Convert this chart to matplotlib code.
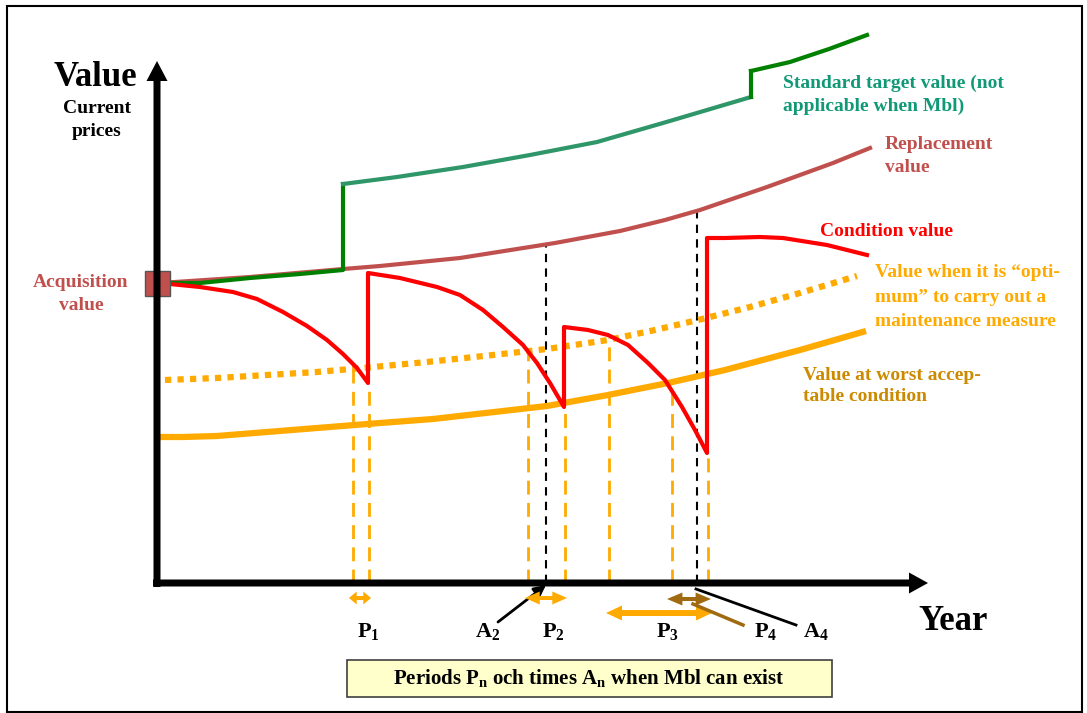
import matplotlib
matplotlib.use("Agg")
import matplotlib.pyplot as plt
from matplotlib.patches import Rectangle

# schematic values, origin at the corner of the two axes (x = time, y = value)
std_x1 = [3, 43, 93, 143, 186]
std_y1 = [300, 300, 305, 309, 313]
std_x2 = [186, 240, 306, 373, 440, 506, 594]
std_y2 = [399, 406, 416, 428, 441, 460, 486]
std_x3 = [594, 633, 672, 710]
std_y3 = [512, 521, 534, 548]

repl_x = [3, 93, 186, 223, 303, 398, 463, 508, 543, 610, 676, 713]
repl_y = [300, 306, 314, 317, 325, 340, 352, 363, 373, 396, 420, 435]

cond_x = [3, 43, 76, 100, 126, 150, 170, 186, 200, 211,
          211, 243, 280, 303, 326, 346, 366, 380, 393, 407,
          407, 431, 451, 471, 491, 508, 525, 538, 550,
          550, 568, 603, 626, 670, 710]
cond_y = [300, 296, 291, 284, 271, 257, 243, 229, 215, 200,
          310, 305, 296, 288, 273, 256, 238, 220, 200, 176,
          256, 253, 248, 238, 220, 203, 176, 153, 130,
          345, 345, 346, 345, 338, 328]

opt_x = [8, 60, 110, 160, 216, 270, 336, 390, 451, 498, 541, 593, 643, 700]
opt_y = [203, 205, 208, 211, 216, 221, 228, 234, 243, 253, 263, 276, 290, 307]

worst_x = [3, 26, 60, 110, 160, 223, 276, 390, 451, 511, 568, 643, 709]
worst_y = [146, 146, 147, 151, 155, 160, 164, 177, 188, 200, 213, 233, 252]

# dashed drop lines (orange: ends of periods, black: times A)
drop_x = [196, 212, 371, 408, 452, 515, 551]
drop_top = [216, 198, 234, 175, 245, 196, 128]
a_x = [389, 540]
a_top = [340, 374]

# periods P1..P4 (start, end, height)
per_start = [192, 368, 449, 510]
per_end = [214, 410, 555, 554]
per_y = [-15, -15, -30, -16]

bottom_labels = ["P$_1$", "A$_2$", "P$_2$", "P$_3$", "P$_4$", "A$_4$"]
bottom_label_x = [211, 331, 396, 510, 609, 659]

plt.rcParams['font.family'] = ['Liberation Serif', 'DejaVu Serif']
plt.rcParams['font.weight'] = 'bold'
plt.rcParams['mathtext.fontset'] = 'custom'
plt.rcParams['mathtext.rm'] = 'Liberation Serif:bold'
plt.rcParams['mathtext.it'] = 'Liberation Serif:bold'
plt.rcParams['mathtext.bf'] = 'Liberation Serif:bold'

fig = plt.figure(figsize=(10.87, 7.13), dpi=100)
ax = fig.add_axes([0, 0, 1, 1])
ax.set_xlim(-157, 930)
ax.set_ylim(-130, 583)
ax.axis('off')

GREEN = '#008000'
TEAL = '#2e9668'
BROWNRED = '#c0504d'
ORANGE = '#ffaa00'
DARKORANGE = '#cc8a00'
BROWN = '#a06a10'

# outer frame
fig.patches.append(Rectangle((7 / 1087, 1 / 713), 1075 / 1087, 706 / 713,
                             transform=fig.transFigure, fill=False,
                             edgecolor='black', lw=1.5))

# drop lines
for x, top in zip(drop_x, drop_top):
    ax.plot([x, x], [0, top], color=ORANGE, lw=2, ls=(0, (5, 3)), zorder=1)
for x, top in zip(a_x, a_top):
    ax.plot([x, x], [0, top], color='black', lw=1.5, ls=(0, (4, 3)), zorder=1)

# curves
ax.plot(worst_x, worst_y, color=ORANGE, lw=4.5, solid_capstyle='butt',
        solid_joinstyle='round', zorder=2)
ax.plot(opt_x, opt_y, color=ORANGE, lw=4.5, ls=(0, (1, 1)),
        dash_capstyle='butt', zorder=2)
ax.plot(repl_x, repl_y, color=BROWNRED, lw=3, solid_joinstyle='round', zorder=3)
ax.plot(std_x1 + [std_x2[0]], std_y1 + [std_y2[0]], color=GREEN, lw=3, zorder=4)
ax.plot(std_x2, std_y2, color=TEAL, lw=3, solid_joinstyle='round', zorder=4)
ax.plot([std_x2[-1], std_x3[0]], [std_y2[-1], std_y3[0]], color=GREEN, lw=3, zorder=4)
ax.plot(std_x3, std_y3, color=GREEN, lw=3, solid_joinstyle='round', zorder=4)
ax.plot(cond_x, cond_y, color='red', lw=3, solid_joinstyle='round', zorder=5)

# acquisition marker
ax.plot([0], [300], marker='s', ms=18, color=BROWNRED, mec='#555555', mew=1, zorder=6)

# axes with arrows
ax.arrow(0, -4, 0, 526, width=7, head_width=21, head_length=20,
         length_includes_head=True, color='black', lw=0, zorder=7)
ax.arrow(-4, 0, 775, 0, width=7, head_width=21, head_length=19,
         length_includes_head=True, color='black', lw=0, zorder=7)

# period arrows, drawn from the middle out to both ends
for i, (s, e, y) in enumerate(zip(per_start, per_end, per_y)):
    col = BROWN if i == 3 else ORANGE
    mid = (s + e) / 2
    half = (e - s) / 2
    hl = min(16, half * 0.7)
    w = 6 if i == 2 else 4
    for d in (-half, half):
        ax.arrow(mid, y, d, 0, width=w, head_width=w + 9, head_length=hl,
                 length_includes_head=True, color=col, lw=0, zorder=4)

# pointers
ax.annotate('', xy=(389, -2), xytext=(341, -39),
            arrowprops=dict(arrowstyle='-|>,head_length=0.5,head_width=0.25',
                            lw=2, color='black', shrinkA=0, shrinkB=0,
                            mutation_scale=14))
ax.plot([586, 536], [-42, -21], color=BROWN, lw=2.5, zorder=5)
ax.plot([639, 539], [-42, -6], color='black', lw=2, zorder=5)

# texts
ax.text(-62, 506, "Value", fontsize=25, ha='center', va='center')
ax.text(-60, 463, "Current\nprices", fontsize=14, ha='center', va='center',
        linespacing=1.45)
ax.text(-76, 289, "Acquisition\nvalue", fontsize=14, ha='center', va='center',
        color=BROWNRED, linespacing=1.5)
ax.text(626, 488, "Standard target value (not\napplicable when Mbl)", fontsize=14,
        ha='left', va='center', color='#119977', linespacing=1.4)
ax.text(728, 427, "Replacement\nvalue", fontsize=14, ha='left', va='center',
        color=BROWNRED, linespacing=1.5)
ax.text(663, 351, "Condition value", fontsize=14, ha='left', va='center', color='red')
ax.text(718, 286, "Value when it is \u201copti-\nmum\u201d to carry out a\nmaintenance measure",
        fontsize=14, ha='left', va='center', color=ORANGE, linespacing=1.55)
ax.text(646, 197, "Value at worst accep-\ntable condition", fontsize=14, ha='left',
        va='center', color=DARKORANGE, linespacing=1.35)

for lab, x in zip(bottom_labels, bottom_label_x):
    ax.text(x, -49, lab, fontsize=16, ha='center', va='center')
ax.text(796, -39, "Year", fontsize=25, ha='center', va='center')

ax.add_patch(Rectangle((190, -114), 485, 37, facecolor='#ffffcc',
                       edgecolor='#404040', lw=1.2, zorder=3))
ax.text(432, -95, "Periods P$_\\mathrm{n}$ och times A$_\\mathrm{n}$ when Mbl can exist",
        fontsize=15, ha='center', va='center', zorder=4)

fig.savefig("out.png", dpi=100)
